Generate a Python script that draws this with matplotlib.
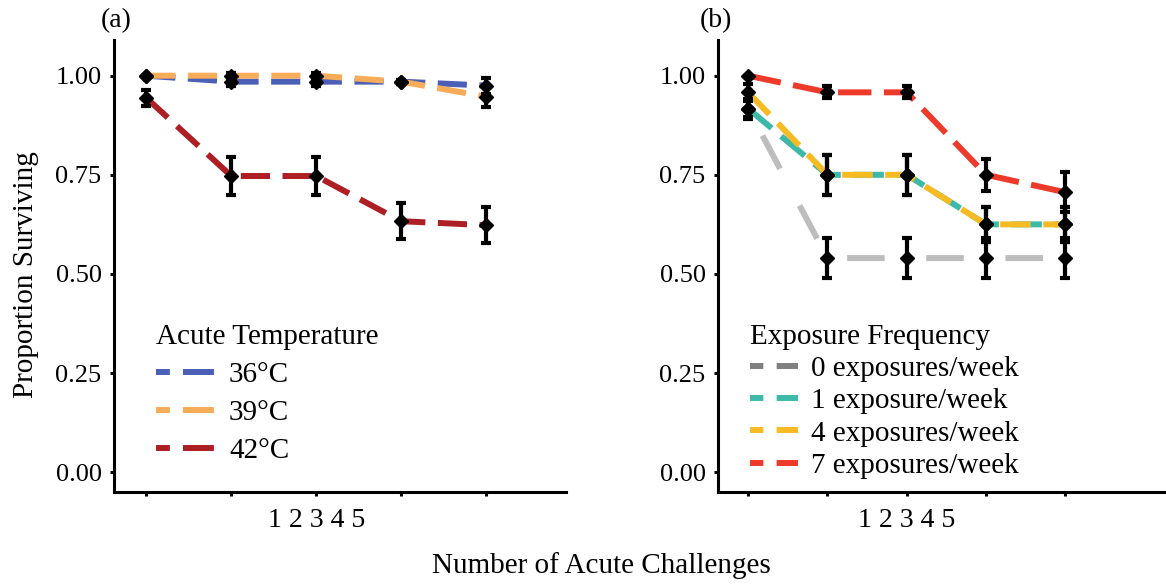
import matplotlib
matplotlib.use("Agg")
import matplotlib.pyplot as plt
from matplotlib.lines import Line2D

plt.rcParams['font.family'] = ['Liberation Serif', 'DejaVu Serif']
plt.rcParams['lines.scale_dashes'] = False

challenges = [1, 2, 3, 4, 5]

# panel (a): acute temperature
temp_labels = ['36°C', '39°C', '42°C']
temp_colors = ['#4A5FB5', '#F7AC5A', '#AE1F25']
surv_36 = [1.00, 0.985, 0.985, 0.985, 0.975]
surv_39 = [1.00, 1.00, 1.00, 0.985, 0.947]
surv_42 = [0.944, 0.747, 0.747, 0.633, 0.623]
err_36 = [0.0, 0.01, 0.01, 0.005, 0.02]
err_39 = [0.0, 0.006, 0.006, 0.005, 0.025]
err_42 = [0.02, 0.048, 0.048, 0.046, 0.045]

# panel (b): exposure frequency
freq_labels = ['0 exposures/week', '1 exposure/week', '4 exposures/week', '7 exposures/week']
freq_colors = ['#BDBDBD', '#3DB9A8', '#F6BA22', '#EE3A2B']
freq_legend_colors = ['#7F7F7F', '#3DB9A8', '#F6BA22', '#EE3A2B']
surv_0 = [0.917, 0.54, 0.54, 0.54, 0.54]
surv_1 = [0.917, 0.75, 0.75, 0.625, 0.625]
surv_4 = [0.958, 0.75, 0.75, 0.625, 0.625]
surv_7 = [1.00, 0.958, 0.958, 0.75, 0.706]
err_0 = [0.02, 0.05, 0.05, 0.05, 0.05]
err_1 = [0.025, 0.05, 0.05, 0.045, 0.045]
err_4 = [0.02, 0.05, 0.05, 0.045, 0.045]
err_7 = [0.0, 0.015, 0.015, 0.04, 0.05]

fig = plt.figure(figsize=(11.66, 5.84), dpi=100)
ax1 = fig.add_axes([0.0978, 0.1575, 0.3876, 0.774])
ax2 = fig.add_axes([0.6158, 0.1575, 0.3842, 0.774])


def style_axis(ax, xmax):
    ax.set_xlim(0.62, xmax)
    ax.set_ylim(-0.05, 1.09)
    ax.set_yticks([0, 0.25, 0.5, 0.75, 1.0])
    ax.set_yticklabels(['0.00', '0.25', '0.50', '0.75', '1.00'])
    ax.set_xticks(challenges)
    ax.set_xticklabels([])
    for s in ['top', 'right']:
        ax.spines[s].set_visible(False)
    for s in ['left', 'bottom']:
        ax.spines[s].set_linewidth(2.2)
    ax.tick_params(length=3, width=2.2, labelsize=19, pad=6, colors='black')
    ax.text(3, -0.035, '1 2 3 4 5', transform=ax.get_xaxis_transform(),
            ha='center', va='top', fontsize=20)


def draw(ax, series, errs, colors, styles):
    for y, c, ls in zip(series, colors, styles):
        ax.plot(challenges, y, color=c, lw=4.3, linestyle=ls,
                dash_capstyle='butt', zorder=2)
    for y, e in zip(series, errs):
        ax.errorbar(challenges, y, yerr=e, fmt='D', color='black', ms=7.5,
                    elinewidth=3, capsize=3.5, capthick=3, zorder=3)


draw(ax1, [surv_36, surv_39, surv_42], [err_36, err_39, err_42], temp_colors,
     [(0, (21, 9))] * 3)
draw(ax2, [surv_0, surv_1, surv_4, surv_7], [err_0, err_1, err_4, err_7], freq_colors,
     [(35, (27, 30)), (0, (22, 9)), (0, (22, 9)), (0, (24, 9))])

style_axis(ax1, 5.94)
style_axis(ax2, 6.27)

h1 = [Line2D([0], [0], color=c, lw=4.3, dashes=(10, 9.4, 22.3, 20)) for c in temp_colors]
leg1 = ax1.legend(h1, temp_labels, title='Acute Temperature', loc='upper left',
                  bbox_to_anchor=(0.035, 0.43), frameon=False, fontsize=21,
                  title_fontsize=21, handlelength=2.0, handletextpad=0.5,
                  labelspacing=0.4, alignment='left')

h2 = [Line2D([0], [0], color=c, lw=4.3, dashes=(9.6, 9.6, 15.6, 20)) for c in freq_legend_colors]
leg2 = ax2.legend(h2, freq_labels, title='Exposure Frequency', loc='upper left',
                  bbox_to_anchor=(0.013, 0.43), frameon=False, fontsize=21,
                  title_fontsize=21, handlelength=1.65, handletextpad=0.45,
                  labelspacing=0.2, alignment='left')

fig.text(0.1, 0.965, '(a)', fontsize=20, ha='center', va='center')
fig.text(0.614, 0.965, '(b)', fontsize=20, ha='center', va='center')
fig.text(0.516, 0.031, 'Number of Acute Challenges', fontsize=21, ha='center', va='center')
fig.text(0.022, 0.529, 'Proportion Surviving', fontsize=21, ha='center', va='center',
         rotation=90)

fig.savefig('out.png', dpi=100)
